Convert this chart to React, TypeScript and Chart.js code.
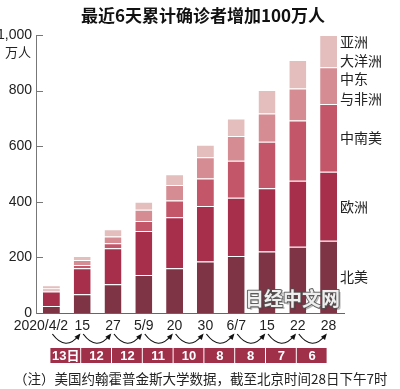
import React, { useEffect, useRef } from "react";
import { Chart, registerables } from "chart.js";
Chart.register(...registerables);

const categories = ["2020/4/2", "15", "27", "5/9", "20", "30", "6/7", "15", "22", "28"];
const northAmerica = [25, 67, 103, 137, 161, 185, 205, 221, 238, 260];
const europe = [52, 94, 130, 158, 183, 200, 210, 228, 238, 248];
const latinAmerica = [3, 12, 18, 36, 61, 99, 133, 167, 216, 244];
const middleEastAfrica = [8, 18, 24, 40, 55, 76, 89, 102, 116, 132];
const asiaOceania = [12, 14, 26, 29, 39, 45, 63, 84, 102, 116];
const seriesNames = [["北美"], ["欧洲"], ["中南美"], ["中东", "与非洲"], ["亚洲", "大洋洲"]];
const intervalDays = ["13日", "12", "12", "11", "10", "8", "8", "7", "6"];
const yTicks = [0, 200, 400, 600, 800, 1000];

const titleText = "最近6天累计确诊者增加100万人";
const unitText = "万人";
const noteText = "（注）美国约翰霍普金斯大学数据，截至北京时间28日下午7时";
const watermarkText = "日经中文网";

const colors = ["#7e3444", "#a82f4c", "#c4566a", "#d58c92", "#e3bebc"];
const NUM = "'Liberation Sans Narrow', 'Liberation Sans', 'Noto Sans CJK SC', sans-serif";
const CJK = "'Noto Sans CJK SC', 'Noto Sans', sans-serif";

const overlay = {
  id: "overlay",
  afterDraw(chart: any) {
    const ctx = chart.ctx as CanvasRenderingContext2D;
    const x = chart.scales.x;
    const y = chart.scales.y;
    const area = chart.chartArea;
    ctx.save();
    ctx.setLineDash([]);
    // title
    ctx.fillStyle = "#111";
    ctx.font = `bold 17px ${CJK}`;
    ctx.textAlign = "center";
    ctx.textBaseline = "middle";
    ctx.fillText(titleText, 203, 16);
    // unit
    ctx.font = `13px ${CJK}`;
    ctx.textAlign = "right";
    ctx.fillStyle = "#222";
    ctx.fillText(unitText, 31, 52);
    // inside ticks
    ctx.strokeStyle = "#777";
    ctx.lineWidth = 1;
    yTicks.forEach((v) => {
      if (v === 0) return;
      const py = Math.round(y.getPixelForValue(v)) + 0.5;
      ctx.beginPath();
      ctx.moveTo(area.left, py);
      ctx.lineTo(area.left + 7, py);
      ctx.stroke();
    });
    // right side labels
    ctx.font = `14px ${CJK}`;
    ctx.textAlign = "left";
    ctx.fillStyle = "#222";
    const last = categories.length - 1;
    seriesNames.forEach((lines, i) => {
      const el = chart.getDatasetMeta(i).data[last];
      const mid = (el.y + el.base) / 2 + (i === 3 ? 3 : 0);
      const lh = i === 3 ? 20 : 19;
      lines.forEach((t, k) => {
        ctx.fillText(t, 340, mid + (k - (lines.length - 1) / 2) * lh);
      });
    });
    // arrows
    for (let i = 0; i < intervalDays.length; i++) {
      const c0 = x.getPixelForValue(i);
      const c1 = x.getPixelForValue(i + 1);
      const sx = c0 + 1;
      const sy = 334;
      const ex = c1 - 3;
      const ey = 335;
      const cx = (sx + ex) / 2;
      const cy = 352;
      ctx.strokeStyle = "#111";
      ctx.lineWidth = 1.2;
      ctx.beginPath();
      ctx.moveTo(sx, sy);
      ctx.quadraticCurveTo(cx, cy, ex, ey);
      ctx.stroke();
      const ang = Math.atan2(ey - cy, ex - cx);
      ctx.fillStyle = "#111";
      ctx.beginPath();
      ctx.moveTo(ex + Math.cos(ang) * 2, ey + Math.sin(ang) * 2);
      ctx.lineTo(ex - 5 * Math.cos(ang - 0.55), ey - 5 * Math.sin(ang - 0.55));
      ctx.lineTo(ex - 5 * Math.cos(ang + 0.55), ey - 5 * Math.sin(ang + 0.55));
      ctx.closePath();
      ctx.fill();
    }
    // boxes
    for (let i = 0; i < intervalDays.length; i++) {
      const c0 = x.getPixelForValue(i);
      const c1 = x.getPixelForValue(i + 1);
      ctx.fillStyle = "#a0304a";
      ctx.fillRect(c0 - 1, 348, c1 - c0 - 1, 15);
      ctx.fillStyle = "#fff";
      ctx.font = `bold 13px ${NUM}`;
      ctx.textAlign = "center";
      ctx.textBaseline = "middle";
      ctx.fillText(intervalDays[i], (c0 + c1) / 2 - 1, 356);
    }
    // footnote
    ctx.fillStyle = "#222";
    ctx.font = `13.5px ${CJK}`;
    ctx.textAlign = "left";
    ctx.fillText(noteText, 14, 379);
    // watermark
    ctx.font = `bold 19px ${CJK}`;
    ctx.textAlign = "left";
    ctx.lineJoin = "round";
    ctx.fillStyle = "rgba(60,60,60,0.35)";
    ctx.fillText(watermarkText, 247, 301);
    ctx.lineWidth = 2;
    ctx.strokeStyle = "rgba(80,80,80,0.9)";
    ctx.strokeText(watermarkText, 245, 299);
    ctx.fillStyle = "#efefef";
    ctx.fillText(watermarkText, 245, 299);
    ctx.restore();
  },
};

export default function App() {
  const ref = useRef<HTMLCanvasElement>(null);
  useEffect(() => {
    if (!ref.current) return;
    const data = [northAmerica, europe, latinAmerica, middleEastAfrica, asiaOceania];
    const chart = new Chart(ref.current, {
      type: "bar",
      data: {
        labels: categories,
        datasets: data.map((d, i) => ({
          label: seriesNames[i].join(""),
          data: d,
          backgroundColor: colors[i],
          borderColor: "rgba(255,255,255,0.85)",
          borderWidth: { top: 1, left: 0, right: 0, bottom: 0 },
          borderSkipped: "start",
          categoryPercentage: 1,
          barPercentage: 0.55,
        })),
      },
      options: {
        animation: false,
        responsive: true,
        maintainAspectRatio: false,
        layout: { padding: { left: 0, right: 56, top: 35, bottom: 56 } },
        plugins: { legend: { display: false }, title: { display: false }, tooltip: { enabled: false } },
        scales: {
          x: {
            stacked: true,
            grid: { display: false, drawTicks: false },
            border: { display: true, color: "#666", width: 1 },
            ticks: {
              color: "#222",
              font: { size: 14, family: NUM },
              padding: 5,
              maxRotation: 0,
              autoSkip: false,
              callback: (_v: any, i: number) => (i === 0 ? categories[i] + "\u2002\u2002\u2002" : categories[i]),
            },
            afterFit: (s: any) => { s.height = 20; },
          },
          y: {
            stacked: true,
            min: 0,
            max: 1000,
            afterBuildTicks: (s: any) => { s.ticks = yTicks.map((v) => ({ value: v })); },
            grid: { display: false, drawTicks: false },
            border: { display: true, color: "#777", width: 1 },
            ticks: { color: "#222", font: { size: 14, family: NUM }, padding: 4 },
            afterFit: (s: any) => { s.width = 36; },
          },
        },
      },
      plugins: [overlay],
    });
    return () => chart.destroy();
  }, []);
  return (
    <div style={{ position: "absolute", left: 0, top: 0, width: 400, height: 389, background: "#fff" }}>
      <canvas ref={ref} />
    </div>
  );
}
